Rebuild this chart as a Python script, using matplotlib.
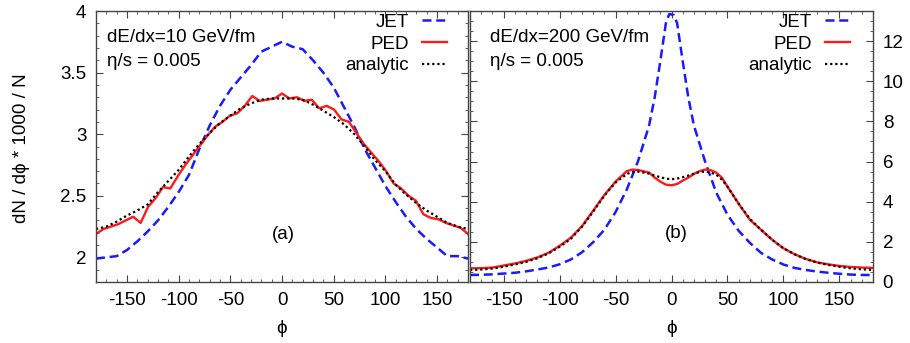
import numpy as np
import matplotlib.pyplot as plt
from matplotlib.ticker import MultipleLocator

plt.rcParams['font.family'] = ['Liberation Sans', 'DejaVu Sans']
plt.rcParams['axes.unicode_minus'] = False

# panel (a): dE/dx = 10 GeV/fm
phi10 = [-180, -170, -160, -150, -140, -130, -120, -110, -100, -90, -80, -70, -60, -50, -40, -30, -20, -10,
         0, 10, 20, 30, 40, 50, 60, 70, 80, 90, 100, 110, 120, 130, 140, 150, 160, 170, 180]
jet_a = [1.99, 2.0, 2.01, 2.06, 2.13, 2.21, 2.3, 2.41, 2.53, 2.67, 2.88, 3.07, 3.23, 3.36, 3.46, 3.56, 3.67, 3.71,
         3.75, 3.71, 3.69, 3.6, 3.5, 3.38, 3.22, 3.06, 2.88, 2.73, 2.58, 2.45, 2.33, 2.23, 2.15, 2.08, 2.01, 2.01, 1.99]
ana_a = [2.23, 2.25, 2.29, 2.34, 2.38, 2.43, 2.53, 2.62, 2.71, 2.82, 2.92, 3.01, 3.09, 3.15, 3.21, 3.25, 3.28, 3.29,
         3.29, 3.29, 3.28, 3.24, 3.19, 3.14, 3.08, 3.0, 2.9, 2.79, 2.7, 2.59, 2.51, 2.44, 2.38, 2.33, 2.28, 2.25, 2.23]

phi_ped = [-180, -172.8, -165.6, -158.4, -151.2, -144, -136.8, -129.6, -122.4, -115.2, -108, -100.8, -93.6,
           -86.4, -79.2, -72, -64.8, -57.6, -50.4, -43.2, -36, -28.8, -21.6, -14.4, -7.2, 0, 7.2, 14.4, 21.6,
           28.8, 36, 43.2, 50.4, 57.6, 64.8, 72, 79.2, 86.4, 93.6, 100.8, 108, 115.2, 122.4, 129.6, 136.8,
           144, 151.2, 158.4, 165.6, 172.8, 180]
ped_a = [2.19, 2.23, 2.25, 2.27, 2.3, 2.33, 2.28, 2.41, 2.48, 2.57, 2.56, 2.66, 2.75,
         2.83, 2.91, 2.99, 3.06, 3.1, 3.15, 3.17, 3.23, 3.31, 3.27, 3.28, 3.29, 3.33, 3.29, 3.3, 3.27,
         3.28, 3.21, 3.23, 3.2, 3.12, 3.1, 3.01, 2.92, 2.85, 2.78, 2.7, 2.6, 2.56, 2.5, 2.46, 2.35,
         2.32, 2.31, 2.28, 2.26, 2.24, 2.19]

# panel (b): dE/dx = 200 GeV/fm
phi_jet_b = [-180, -170, -160, -150, -140, -130, -120, -110, -100, -90, -80, -70, -60, -50, -40, -30, -20, -15,
             -10, -5, -2, 2, 5, 10, 15, 20, 30, 40, 50, 60, 70, 80, 90, 100, 110, 120, 130, 140, 150, 160, 170, 180]
jet_b = [0.35, 0.36, 0.38, 0.42, 0.46, 0.53, 0.62, 0.72, 0.88, 1.12, 1.48, 1.98, 2.6, 3.48, 4.6, 6.0, 7.8, 9.2,
         11.0, 12.9, 13.35, 13.3, 12.9, 11.0, 9.2, 7.8, 6.0, 4.45, 3.35, 2.55, 1.95, 1.45, 1.12, 0.87, 0.7, 0.6,
         0.52, 0.46, 0.41, 0.37, 0.35, 0.35]

phi_b = [-180, -170, -160, -150, -140, -130, -120, -110, -100, -90, -80, -70, -60, -50, -40, -35, -30, -20, -15,
         -10, -5, 0, 5, 10, 15, 20, 25, 30, 35, 40, 45, 50, 60, 70, 80, 90, 100, 110, 120, 130, 140, 150, 160, 170, 180]
ped_b = [0.68, 0.69, 0.72, 0.82, 0.92, 1.05, 1.22, 1.45, 1.8, 2.2, 2.78, 3.55, 4.33, 5.0, 5.52, 5.6, 5.58, 5.45, 5.2,
         5.0, 4.85, 4.82, 4.88, 5.05, 5.2, 5.38, 5.52, 5.6, 5.57, 5.45, 5.2, 4.75, 3.9, 3.1, 2.6, 2.1, 1.68, 1.38,
         1.15, 0.98, 0.88, 0.8, 0.75, 0.72, 0.7]
ana_b = [0.6, 0.62, 0.67, 0.76, 0.87, 1.0, 1.18, 1.42, 1.75, 2.15, 2.75, 3.5, 4.3, 4.95, 5.38, 5.48, 5.5, 5.4, 5.3,
         5.22, 5.15, 5.12, 5.15, 5.22, 5.3, 5.4, 5.48, 5.5, 5.45, 5.35, 5.1, 4.75, 3.9, 3.15, 2.6, 2.1, 1.68, 1.38,
         1.14, 0.97, 0.85, 0.76, 0.68, 0.63, 0.6]

W, H = 910, 343
fig = plt.figure(figsize=(W / 100, H / 100), dpi=100)
ax1 = fig.add_axes([96 / W, 1 - 282 / H, (468 - 96) / W, (282 - 11) / H])
ax2 = fig.add_axes([470 / W, 1 - 282 / H, (873 - 470) / W, (282 - 11) / H])

fs = 13.5
dash = (0, (3.6, 1.9))
dot = (0, (1, 1.3))

for ax, pj, yj, pp, yp, pa, ya in [(ax1, phi10, jet_a, phi_ped, ped_a, phi10, ana_a),
                                   (ax2, phi_jet_b, jet_b, phi_b, ped_b, phi_b, ana_b)]:
    ax.plot(pj, yj, color='#1a1aff', lw=1.8, linestyle=dash, label='JET')
    ax.plot(pp, yp, color='#ff1a1a', lw=1.7, label='PED')
    ax.plot(pa, ya, color='black', lw=1.6, linestyle=dot, label='analytic')
    ax.set_xlim(-180, 180)
    ax.xaxis.set_major_locator(MultipleLocator(50))
    ax.xaxis.set_minor_locator(MultipleLocator(10))
    ax.tick_params(which='both', direction='in', top=True, bottom=True, left=True, right=True,
                   labelsize=fs, color='#444444')
    ax.tick_params(which='major', length=5, width=0.8, pad=7)
    ax.tick_params(which='minor', length=2.5, width=0.6)
    for s in ax.spines.values():
        s.set_color('#444444')
        s.set_linewidth(1.0)
    ax.set_xlabel('\u03d5', fontsize=fs, labelpad=8)
    ax.legend(loc='upper right', bbox_to_anchor=(0.944, 0.99), frameon=False, markerfirst=False,
              fontsize=fs, handlelength=1.35, handletextpad=0.7, labelspacing=0.25, borderpad=0,
              borderaxespad=0)

ax1.set_ylim(1.8, 4)
ax1.yaxis.set_major_locator(MultipleLocator(0.5))
ax1.yaxis.set_minor_locator(MultipleLocator(0.1))
ax1.yaxis.set_major_formatter(plt.FuncFormatter(lambda v, p: ('%g' % v)))

ax2.set_ylim(0, 13.5)
ax2.yaxis.set_major_locator(MultipleLocator(2))
ax2.yaxis.set_minor_locator(MultipleLocator(0.5))
ax2.tick_params(axis='y', labelleft=False, labelright=True)

ax1.text(0.03, 0.904, 'dE/dx=10 GeV/fm', transform=ax1.transAxes, fontsize=fs, va='center')
ax1.text(0.03, 0.815, '\u03b7/s = 0.005', transform=ax1.transAxes, fontsize=fs, va='center')
ax2.text(0.05, 0.904, 'dE/dx=200 GeV/fm', transform=ax2.transAxes, fontsize=fs, va='center')
ax2.text(0.05, 0.815, '\u03b7/s = 0.005', transform=ax2.transAxes, fontsize=fs, va='center')
ax1.text(0.505, 0.177, '(a)', transform=ax1.transAxes, fontsize=fs, ha='center', va='center')
ax2.text(0.513, 0.18, '(b)', transform=ax2.transAxes, fontsize=fs, ha='center', va='center')

fig.text(22 / W, 1 - 148 / H, 'dN / d\u03d5 * 1000 / N', rotation=90, fontsize=fs,
         ha='center', va='center')

fig.savefig('out.png', dpi=100)
